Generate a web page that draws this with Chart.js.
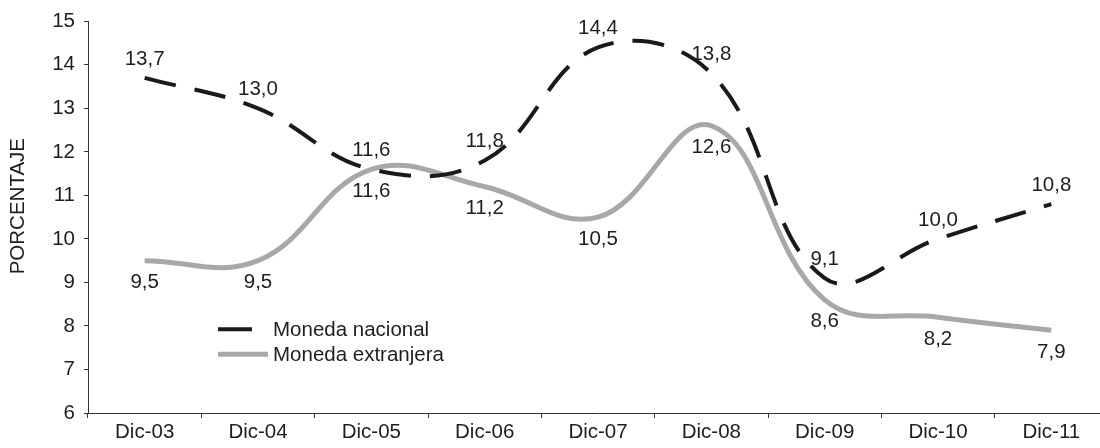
<!DOCTYPE html>
<html>
<head>
<meta charset="utf-8">
<script src="https://cdn.jsdelivr.net/npm/chart.js@4.4.1/dist/chart.umd.min.js"></script>
<style>
html, body { margin: 0; padding: 0; width: 1100px; height: 448px; overflow: hidden; background: #ffffff; }
#wrap { position: absolute; left: 0; top: 0; width: 1110px; height: 448px; }
</style>
</head>
<body>
<div id="wrap"><canvas id="c" width="1110" height="448"></canvas></div>
<script>
// ---- data ----
const categories = ['Dic-03', 'Dic-04', 'Dic-05', 'Dic-06', 'Dic-07', 'Dic-08', 'Dic-09', 'Dic-10', 'Dic-11'];
const monedaNacional = [13.7, 13.0, 11.6, 11.8, 14.4, 13.8, 9.1, 10.0, 10.8];
const monedaExtranjera = [9.5, 9.5, 11.6, 11.2, 10.5, 12.6, 8.6, 8.2, 7.9];
const yTickValues = [6, 7, 8, 9, 10, 11, 12, 13, 14, 15];
const seriesNames = ['Moneda nacional', 'Moneda extranjera'];
const yAxisTitle = 'PORCENTAJE';

const FONT = '"Liberation Sans", Arial, Helvetica, sans-serif';
const FS = 20.5;
const TEXT = '#1e1e1e';
const BLACK = '#1a1a1a';
const GRAY = '#a8a8aa';

function fmt(v) { return v.toFixed(1).replace('.', ','); }

const valueLabels = {
  id: 'valueLabels',
  afterDatasetsDraw(chart) {
    const ctx = chart.ctx;
    ctx.save();
    ctx.font = FS + 'px ' + FONT;
    ctx.fillStyle = TEXT;
    ctx.textAlign = 'center';
    ctx.textBaseline = 'middle';
    chart.data.datasets.forEach((ds, di) => {
      const meta = chart.getDatasetMeta(di);
      meta.data.forEach((pt, i) => {
        const off = di === 0 ? -19 : 22;
        ctx.fillText(fmt(ds.data[i]), pt.x, pt.y + off);
      });
    });
    ctx.restore();
  }
};

const innerLegend = {
  id: 'innerLegend',
  afterDraw(chart) {
    const ctx = chart.ctx;
    const a = chart.chartArea;
    const x0 = a.left + 130;
    const rows = [
      { y: a.top + 308, color: BLACK, w: 4, len: 34 },
      { y: a.top + 333, color: GRAY, w: 5, len: 50 }
    ];
    ctx.save();
    ctx.font = FS + 'px ' + FONT;
    ctx.fillStyle = TEXT;
    ctx.textAlign = 'left';
    ctx.textBaseline = 'middle';
    rows.forEach((r, i) => {
      ctx.strokeStyle = r.color;
      ctx.lineWidth = r.w;
      ctx.beginPath();
      ctx.moveTo(x0, r.y);
      ctx.lineTo(x0 + r.len, r.y);
      ctx.stroke();
      ctx.fillText(chart.data.datasets[i].label, a.left + 185, r.y + 1);
    });
    // y-axis title
    ctx.translate(18, (a.top + a.bottom) / 2 - 11);
    ctx.rotate(-Math.PI / 2);
    ctx.textAlign = 'center';
    ctx.fillText(yAxisTitle, 0, 0);
    ctx.restore();
  }
};

new Chart(document.getElementById('c'), {
  type: 'line',
  data: {
    labels: categories,
    datasets: [
      {
        label: seriesNames[0],
        data: monedaNacional,
        borderColor: BLACK,
        borderWidth: 4,
        borderDash: [32, 19],
        pointRadius: 0,
        tension: 0.4,
        fill: false
      },
      {
        label: seriesNames[1],
        data: monedaExtranjera,
        borderColor: GRAY,
        borderWidth: 5,
        pointRadius: 0,
        tension: 0.4,
        fill: false
      }
    ]
  },
  options: {
    responsive: false,
    animation: false,
    layout: { padding: { top: 15, right: 2, left: 0, bottom: 0 } },
    plugins: {
      legend: { display: false },
      tooltip: { enabled: false }
    },
    scales: {
      x: {
        type: 'category',
        offset: true,
        grid: { offset: true, drawOnChartArea: false, drawTicks: true, tickLength: 5, color: '#333333' },
        border: { display: true, color: '#333333', width: 1 },
        ticks: { color: TEXT, font: { family: FONT, size: FS }, padding: 2, maxRotation: 0, autoSkip: false },
        afterFit(scale) { scale.height = 35; }
      },
      y: {
        min: 6,
        max: 15,
        afterBuildTicks(scale) { scale.ticks = yTickValues.map(v => ({ value: v })); },
        grid: { drawOnChartArea: false, drawTicks: true, tickLength: 4, color: '#333333' },
        border: { display: true, color: '#333333', width: 1 },
        ticks: { color: TEXT, font: { family: FONT, size: FS }, padding: 9, callback: v => String(v) },
        title: { display: false },
        afterFit(scale) { scale.width = 88; }
      }
    }
  },
  plugins: [valueLabels, innerLegend]
});
</script>
</body>
</html>
